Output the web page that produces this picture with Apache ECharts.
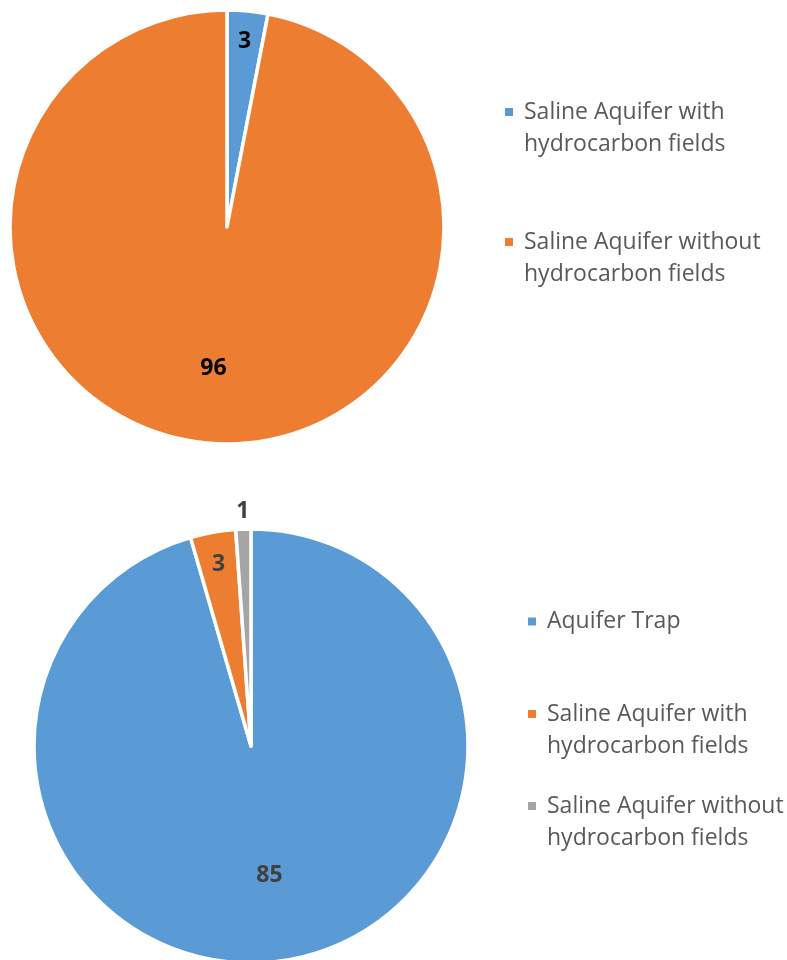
<!DOCTYPE html>
<html>
<head>
<meta charset="utf-8">
<script src="https://cdn.jsdelivr.net/npm/echarts@6/dist/echarts.min.js"></script>
<style>
  html, body { margin: 0; padding: 0; background: #fff; }
  #chart { width: 787px; height: 960px; }
</style>
</head>
<body>
<div id="chart"></div>
<script>
const topNames = ["Saline Aquifer with\nhydrocarbon fields", "Saline Aquifer without\nhydrocarbon fields"];
const topValues = [3, 96];
const topColors = ["#5B9BD5", "#ED7D31"];

const bottomNames = ["Aquifer Trap", "Saline Aquifer with\nhydrocarbon fields", "Saline Aquifer without\nhydrocarbon fields"];
const bottomValues = [85, 3, 1];
const bottomColors = ["#5B9BD5", "#ED7D31", "#A5A5A5"];

const FONT = "'Open Sans', 'Noto Sans', sans-serif";
const LINE_H = 32;
const LEGEND_FS = 23;

function pieSeries(center, radius, names, values, colors) {
    return {
        type: "pie",
        center: center,
        radius: radius,
        startAngle: 90,
        clockwise: true,
        silent: true,
        label: { show: false },
        labelLine: { show: false },
        itemStyle: { borderColor: "#fff", borderWidth: 3.5 },
        data: names.map((n, i) => ({ name: n, value: values[i], itemStyle: { color: colors[i] } }))
    };
}

// transparent copy of a pie, used only to place one value label at a given radius
function labelSeries(center, r, names, values, idx, color) {
    return {
        type: "pie",
        center: center,
        radius: [r - 1, r + 1],
        startAngle: 90,
        clockwise: true,
        silent: true,
        labelLine: { show: false },
        itemStyle: { color: "transparent" },
        data: names.map((n, i) => ({
            name: n,
            value: values[i],
            label: {
                show: i === idx,
                position: "inside",
                formatter: "{c}",
                color: color,
                fontSize: 23,
                fontWeight: "bold",
                fontFamily: FONT
            }
        }))
    };
}

// one legend per entry so the marker sits on the first text line
function legendItem(left, lineY, name, color) {
    const multi = name.indexOf("\n") >= 0;
    return {
        orient: "vertical",
        left: left,
        top: multi ? lineY - LINE_H * 1.5 : lineY - LINE_H / 2,
        padding: 0,
        icon: "rect",
        itemWidth: 8,
        itemHeight: 8,
        selectedMode: false,
        // blank first line centres the marker on the first real line
        formatter: n => (n.indexOf("\n") >= 0 ? "\n" + n : n),
        data: [{ name: name, itemStyle: { color: color, borderWidth: 0 } }],
        textStyle: {
            fontSize: LEGEND_FS,
            fontFamily: FONT,
            color: "#595959",
            lineHeight: LINE_H,
            padding: [0, 0, 0, 6]
        }
    };
}

const topCenter = [227, 227];
const bottomCenter = [251, 746];

const option = {
    backgroundColor: "#fff",
    animation: false,
    legend: [
        legendItem(505, 112, topNames[0], topColors[0]),
        legendItem(505, 242, topNames[1], topColors[1]),
        legendItem(528, 621.5, bottomNames[0], bottomColors[0]),
        legendItem(528, 714, bottomNames[1], bottomColors[1]),
        legendItem(528, 806, bottomNames[2], bottomColors[2])
    ],
    series: [
        pieSeries(topCenter, 217, topNames, topValues, topColors),
        pieSeries(bottomCenter, 217, bottomNames, bottomValues, bottomColors),
        labelSeries(topCenter, 183, topNames, topValues, 0, "#000"),
        labelSeries(topCenter, 139, topNames, topValues, 1, "#000"),
        labelSeries(bottomCenter, 128, bottomNames, bottomValues, 0, "#404040"),
        labelSeries(bottomCenter, 181, bottomNames, bottomValues, 1, "#404040"),
        labelSeries(bottomCenter, 232, bottomNames, bottomValues, 2, "#404040")
    ]
};

const myChart = echarts.init(document.getElementById("chart"));
myChart.setOption(option);
</script>
</body>
</html>
